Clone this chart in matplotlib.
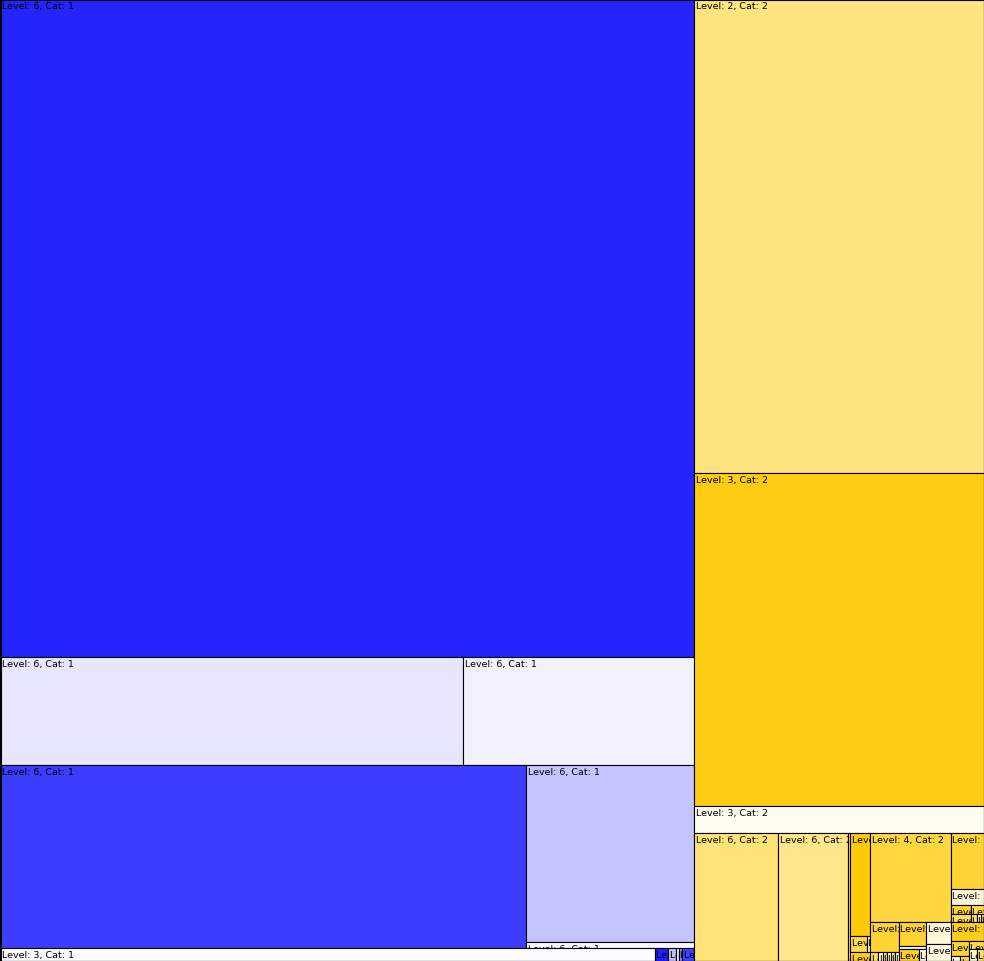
#!/usr/bin/env python3
"""
Slice-and-dice treemap of a two category hierarchy.
"""

import matplotlib
matplotlib.use("Agg")
import matplotlib.pyplot as plt
from matplotlib.patches import Rectangle
from matplotlib.transforms import Bbox, TransformedBbox

# leaves are (level, size, shade); lists are groups
CAT_BASES = [(0, 0, 255), (255, 200, 0)]

cat1_row1 = [(6, 50004, 0.10), (6, 24948, 0.05)]
cat1_row2_right = [(6, 29736, 0.23), (6, 1008, 0.02)]
cat1_row2 = [(6, 96258, 0.76), cat1_row2_right]
cat1_strip = [(3, 8515, 0.01), (6, 169, 0.88), (5, 104, 0.25),
              (4, 39, 0.03), (6, 39, 0.45), (5, 156, 0.75)]
cat1 = [(6, 456652, 0.86), cat1_row1, cat1_row2, cat1_strip]

g1_mid = [(5, 272, 0.70), (6, 48, 0.20)]
g1 = [(5, 2060, 0.97), g1_mid, (6, 180, 0.90)]

g2a_low = [(6, 72, 0.60), (6, 45, 0.10), (5, 36, 0.70),
           (6, 36, 0.10), (5, 36, 0.60), (6, 36, 0.10)]
g2a = [(5, 870, 0.80), g2a_low]
g2b_low = [(5, 240, 0.85), (6, 84, 0.10)]
g2b = [(5, 648, 0.80), (6, 81, 0.10), g2b_low]
g2c = [(6, 550, 0.15), (6, 425, 0.12)]
g2 = [(4, 7209, 0.75), [g2a, g2b, g2c]]

g3_mid_a = [(5, 180, 0.80), (6, 160, 0.60)]
g3_mid_b = [(5, 117, 0.70), [(6, 48, 0.60), (6, 32, 0.10), (5, 24, 0.80)]]
g3_low_a = [(5, 270, 0.80), [(6, 45, 0.10), (6, 45, 0.70)]]
g3_low_b = [(6, 120, 0.70), [(6, 90, 0.15), (5, 90, 0.60)]]
g3 = [(5, 1848, 0.78), (6, 528, 0.15), [g3_mid_a, g3_mid_b],
      (5, 627, 0.90), [g3_low_a, g3_low_b]]

cat2_bottom = [(6, 10752, 0.53), (6, 8960, 0.46), (5, 256, 0.60), g1, g2, g3]
cat2 = [(2, 137460, 0.50), (3, 96570, 0.92), (3, 7830, 0.06), cat2_bottom]

categories = [cat1, cat2]

WIDTH, HEIGHT = 984, 962


def node_size(node):
    if isinstance(node, tuple):
        return node[1]
    return sum(node_size(c) for c in node)


def layout(node, x, y, w, h, depth, cat, out):
    if isinstance(node, tuple):
        out.append((x, y, w, h, node, cat))
        return
    total = node_size(node)
    pos = 0.0
    for child in node:
        frac = node_size(child) / total
        if depth % 2 == 0:
            layout(child, x + pos * w, y, frac * w, h, depth + 1, cat, out)
        else:
            layout(child, x, y + pos * h, w, frac * h, depth + 1, cat, out)
        pos += frac


def shade_color(cat, shade):
    base = CAT_BASES[cat - 1]
    return tuple((255 - (255 - b) * shade) / 255 for b in base)


def main() -> None:
    rects = []
    total = sum(node_size(c) for c in categories)
    x = 0.0
    for i, cat in enumerate(categories):
        w = WIDTH * node_size(cat) / total
        layout(cat, x, 0, w, HEIGHT, 1, i + 1, rects)
        x += w

    fig = plt.figure(figsize=(9.84, 9.62), dpi=100)
    ax = fig.add_axes([0, 0, 1, 1])
    ax.set_xlim(0, WIDTH)
    ax.set_ylim(HEIGHT, 0)
    ax.axis("off")

    for (rx, ry, rw, rh, (level, _, shade), cat) in rects:
        patch = Rectangle((rx, ry), rw, rh,
                          facecolor=shade_color(cat, shade),
                          edgecolor="black", linewidth=0.8)
        ax.add_patch(patch)
        txt = ax.text(rx + 1.5, ry + 2.2, f"Level: {level}, Cat: {cat}",
                      fontsize=6.8, ha="left", va="top", color="black",
                      clip_on=True)
        box = Bbox.from_bounds(rx, ry, rw, rh)
        txt.set_clip_box(TransformedBbox(box, ax.transData))

    ax.add_patch(Rectangle((0.5, 0.5), WIDTH - 1, HEIGHT - 1,
                           fill=False, edgecolor="black", linewidth=0.8))
    fig.savefig("out.png", dpi=100)


if __name__ == '__main__':
    main()
